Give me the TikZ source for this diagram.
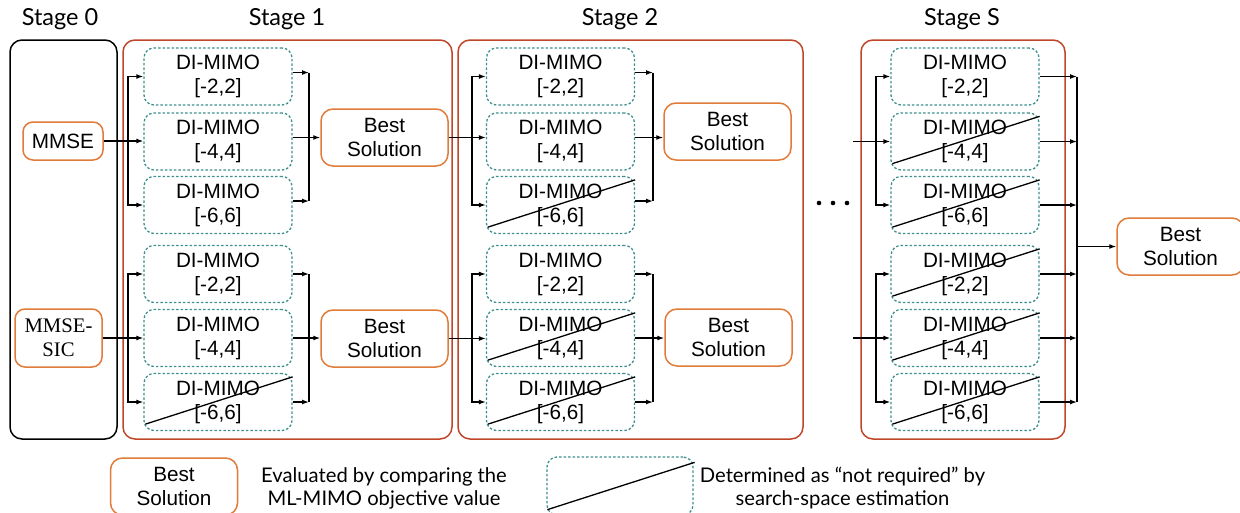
\documentclass[tikz,border=0pt]{standalone}
\usepackage{fontspec}
\setmainfont{Liberation Sans}
\newfontfamily\labelfont{Lato}
\newfontfamily\timesfont{Liberation Serif}
\usetikzlibrary{arrows.meta,calc}

\definecolor{stagered}{HTML}{C0462A}
\definecolor{bestorange}{HTML}{E07B39}
\definecolor{dimteal}{HTML}{3D8F8C}

\tikzset{
  stagebox/.style={draw=stagered, line width=1.5pt, rounded corners=12pt, inner sep=0pt},
  zerobox/.style={draw=black, line width=1.5pt, rounded corners=12pt, inner sep=0pt},
  dibox/.style={draw=dimteal, dash pattern=on 2.5pt off 2pt, line width=1.3pt,
    rounded corners=10pt, minimum width=148pt, minimum height=57pt, inner sep=0pt,
    align=center, font=\fontsize{20.7}{24}\selectfont},
  bestbox/.style={draw=bestorange, line width=1.5pt, rounded corners=12pt,
    minimum width=127pt, minimum height=57pt, inner sep=0pt,
    align=center, font=\fontsize{20.7}{24}\selectfont},
  initbox/.style={draw=bestorange, line width=1.5pt, rounded corners=10pt,
    inner sep=0pt, align=center, font=\fontsize{20.7}{24}\selectfont},
  stagelabel/.style={font=\labelfont\fontsize{23.5}{26}\selectfont},
  legtext/.style={align=center, font=\labelfont\fontsize{20.2}{23}\selectfont},
  arr/.style={-{Latex[length=7pt,width=5pt]}, line width=1.3pt},
  bar/.style={line width=1.3pt},
  cross/.style={line width=1.3pt},
}

\begin{document}
\begin{tikzpicture}[x=1pt,y=-1pt]
\useasboundingbox (0,0) rectangle (1240,512);
\clip (0,0) rectangle (1240,512);

% stage frames and titles
\node[zerobox,  minimum width=107pt, minimum height=399pt] (st0) at (63.5,239.5) {};
\node[stagebox, minimum width=329pt, minimum height=399pt] (st1) at (287.5,239.5) {};
\node[stagebox, minimum width=345pt, minimum height=399pt] (st2) at (630.5,239.5) {};
\node[stagebox, minimum width=204pt, minimum height=399pt] (stS) at (963,239.5) {};

\node[stagelabel] (lab0) at (60,19) {Stage 0};
\node[stagelabel] (lab1) at (287,19) {Stage 1};
\node[stagelabel] (lab2) at (620,19) {Stage 2};
\node[stagelabel] (labS) at (962,19) {Stage S};

% initial detectors
\node[initbox, minimum width=80pt, minimum height=38pt] (mmse) at (63,141) {MMSE};
\node[initbox, minimum width=87pt, minimum height=58pt, font=\timesfont\fontsize{20.7}{24}\selectfont] (sic) at (58.5,338) {MMSE-\\SIC};

% DI-MIMO candidates of each stage
\foreach \st/\cx in {a/218, b/560.5, s/965} {
  \foreach \i/\y/\r in {1/76.5/2, 2/141.5/4, 3/205/6, 4/274/2, 5/338/4, 6/402/6} {
    \node[dibox] (\st\i) at (\cx,\y) {DI-MIMO\\{[-\r,\r]}};
  }
}

% candidates skipped by the search-space estimate
\foreach \n in {a6, b3, b5, b6, s2, s3, s4, s5, s6} {
  \draw[cross] ([shift={(2,-7)}]\n.south west) -- ([shift={(0,4)}]\n.north east);
}

% best-solution selectors
\node[bestbox] (abu) at (384.5,137.5) {Best\\Solution};
\node[bestbox] (abl) at (384.5,338.5) {Best\\Solution};
\node[bestbox] (bbu) at (727.5,131.5) {Best\\Solution};
\node[bestbox] (bbl) at (728.5,337.5) {Best\\Solution};
\node[bestbox] (final) at (1180.5,246.5) {Best\\Solution};

% bar positions
\coordinate (aL) at (128,0);
\coordinate (aR) at (309,0);
\coordinate (bL) at (472,0);
\coordinate (bR) at (653,0);
\coordinate (sL) at (876,0);
\coordinate (sR) at (1077,0);

% ---- Stage 1, upper branch
\draw[arr] (mmse.east) -- (mmse.east -| a2.west);
\draw[arr] (mmse.east -| aL) |- (a1.west);
\draw[arr] (mmse.east -| aL) |- (a3.west);
\draw[arr] ([yshift=4pt]a1.east) -- ([yshift=4pt]a1.east -| aR);
\draw[arr] ([yshift=4pt]a3.east) -- ([yshift=4pt]a3.east -| aR);
\draw[bar] ([yshift=4pt]a1.east -| aR) -- ([yshift=4pt]a3.east -| aR);
\draw[arr] ([yshift=4pt]a2.east) -- ([yshift=4pt]a2.east -| abu.west);

% ---- Stage 1, lower branch
\draw[arr] (sic.east) -- (sic.east -| a5.west);
\draw[arr] (sic.east -| aL) |- (a4.west);
\draw[arr] (sic.east -| aL) |- (a6.west);
\draw[arr] (a4.east) -- (a4.east -| aR);
\draw[arr] (a6.east) -- (a6.east -| aR);
\draw[bar] (a4.east -| aR) -- (a6.east -| aR);
\draw[arr] (a5.east) -- (a5.east -| abl.west);

% ---- Stage 2, upper branch
\draw[arr] (abu.east) -- (abu.east -| b2.west);
\draw[arr] (abu.east -| bL) |- (b1.west);
\draw[arr] (abu.east -| bL) |- (b3.west);
\draw[arr] ([yshift=4pt]b1.east) -- ([yshift=4pt]b1.east -| bR);
\draw[arr] ([yshift=4pt]b3.east) -- ([yshift=4pt]b3.east -| bR);
\draw[bar] ([yshift=4pt]b1.east -| bR) -- ([yshift=4pt]b3.east -| bR);
\draw[arr] ([yshift=4pt]b2.east) -- ([yshift=4pt]b2.east -| bbu.west);

% ---- Stage 2, lower branch
\draw[arr] (abl.east) -- (abl.east -| b5.west);
\draw[arr] (abl.east -| bL) |- (b4.west);
\draw[arr] (abl.east -| bL) |- (b6.west);
\draw[arr] (b4.east) -- (b4.east -| bR);
\draw[arr] (b6.east) -- (b6.east -| bR);
\draw[bar] (b4.east -| bR) -- (b6.east -| bR);
\draw[arr] (b5.east) -- (b5.east -| bbl.west);

% intermediate stages
\fill (819,203) circle (2.3);
\fill (833,203) circle (2.3);
\fill (847,203) circle (2.3);

% ---- Stage S
\coordinate (sInU) at (853,141.5);
\coordinate (sInL) at (853,338);
\draw[arr] (sInU) -- (sInU -| s2.west);
\draw[arr] (sInU -| sL) |- (s1.west);
\draw[arr] (sInU -| sL) |- (s3.west);
\draw[arr] (sInL) -- (sInL -| s5.west);
\draw[arr] (sInL -| sL) |- (s4.west);
\draw[arr] (sInL -| sL) |- (s6.west);
\foreach \i in {1,...,6} {
  \draw[arr] (s\i.east) -- (s\i.east -| sR);
}
\draw[bar] (s1.east -| sR) -- (s6.east -| sR);
\draw[arr] (final.west -| sR) -- (final.west);

% legend
\node[bestbox] (legbest) at (174,486.5) {Best\\Solution};
\node[legtext] (legtxt1) at (384,488) {Evaluated by comparing the\\ML-MIMO objective value};
\node[dibox, minimum width=146pt, minimum height=58pt] (legdi) at (620,486) {};
\draw[cross] ([shift={(1,-6)}]legdi.south west) -- ([shift={(1,6)}]legdi.north east);
\node[legtext] (legtxt2) at (842.5,488) {Determined as “not required” by\\search-space estimation};
\end{tikzpicture}
\end{document}
